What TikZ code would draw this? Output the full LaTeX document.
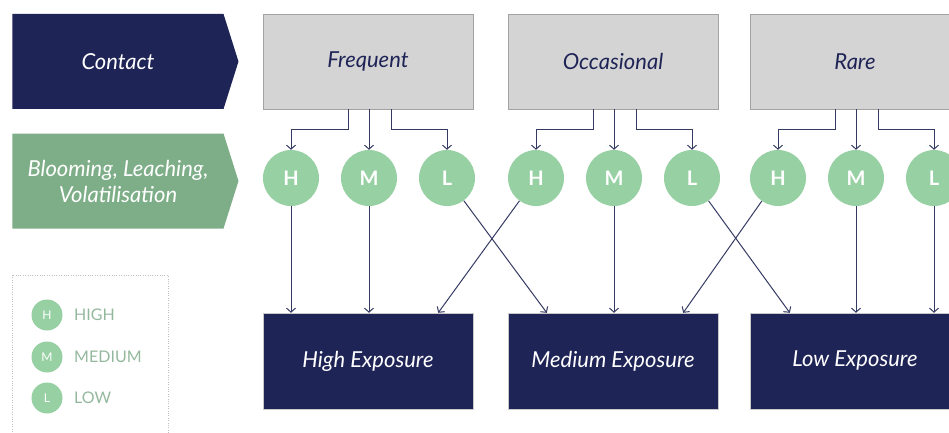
\documentclass[tikz,border=0pt]{standalone}
\usepackage{fontspec}
\setmainfont{Lato}
\usetikzlibrary{arrows.meta,shapes.symbols}
\definecolor{navy}{HTML}{1F2456}
\definecolor{leaf}{HTML}{7EAE88}
\definecolor{mint}{HTML}{97D0A3}
\definecolor{greybox}{HTML}{D4D4D4}
\definecolor{greyedge}{HTML}{A3A3A3}
\definecolor{linkc}{HTML}{353A63}
\definecolor{legendtxt}{HTML}{94B89D}
\tikzset{>={Straight Barb[length=4pt,width=9pt]}}
\tikzset{
  header/.style={signal,signal to=east,signal pointer angle=145,minimum width=226pt,
    minimum height=95pt,inner sep=0pt,text=white,align=center,
    font=\fontsize{22}{26}\selectfont\itshape},
  catbox/.style={draw=greyedge,fill=greybox,minimum width=210pt,minimum height=95pt,
    text=navy,font=\fontsize{22}{26}\selectfont\itshape},
  expbox/.style={draw=greyedge!60,fill=navy,minimum width=210pt,minimum height=96pt,
    text=white,font=\fontsize{22}{26}\selectfont\itshape},
  level/.style={circle,fill=mint,minimum size=56pt,inner sep=0pt,text=white,
    font=\fontsize{20}{20}\selectfont\bfseries},
  key/.style={circle,fill=mint,minimum size=31pt,inner sep=0pt,text=white,
    font=\fontsize{12}{12}\selectfont},
  keytext/.style={anchor=west,text=legendtxt,font=\fontsize{16}{16}\selectfont},
  link/.style={->,draw=linkc,line width=1pt}
}

\begin{document}
\begin{tikzpicture}[x=1pt,y=-1pt]
  \useasboundingbox (0,0) rectangle (949,433);
  \clip (0,0) rectangle (949,433);
  \node[header,fill=navy] (contact) at (118,61.5) {Contact};
  \node[header,fill=leaf] (process) at (118,181) {Blooming, Leaching,\\Volatilisation};
  % one column per contact level
  \foreach \c/\x/\lab/\res in {fr/368/Frequent/High,oc/613/Occasional/Medium,ra/855/Rare/Low}{
    \node[catbox] (\c) at (\x,61.5) {\lab};
    \node[expbox] (\c E) at (\x,361) {\res{} Exposure};
    \node[level] (\c H) at (\x-77,178) {H};
    \node[level] (\c M) at (\x+1,178) {M};
    \node[level] (\c L) at (\x+79,178) {L};
    \draw[link] ([xshift=-20pt]\c.south) -- ++(0,20) -| (\c H);
    \draw[link] (\c M |- \c.south) -- (\c M);
    \draw[link] ([xshift=23pt]\c.south) -- ++(0,20) -| (\c L);
  }
  \draw[link] (frH) -- (frH |- frE.north);
  \draw[link] (frM) -- (frM |- frE.north);
  \draw[link] (frL) -- ([xshift=39pt]ocE.north west);
  \draw[link] (ocH) -- ([xshift=-35pt]frE.north east);
  \draw[link] (ocM) -- (ocM |- ocE.north);
  \draw[link] (ocL) -- ([xshift=40pt]raE.north west);
  \draw[link] (raH) -- ([xshift=-35pt]ocE.north east);
  \draw[link] (raM) -- (raM |- raE.north);
  \draw[link] (raL) -- (raL |- raE.north);
  % legend
  \draw[gray!50,dotted] (12,275) rectangle (168,445);
  \node[key] (kH) at (47,315) {H};
  \node[key] (kM) at (47,357) {M};
  \node[key] (kL) at (47,398) {L};
  \node[keytext] (kHt) at ([xshift=8pt]kH.east) {HIGH};
  \node[keytext] (kMt) at ([xshift=8pt]kM.east) {MEDIUM};
  \node[keytext] (kLt) at ([xshift=8pt]kL.east) {LOW};
\end{tikzpicture}
\end{document}
